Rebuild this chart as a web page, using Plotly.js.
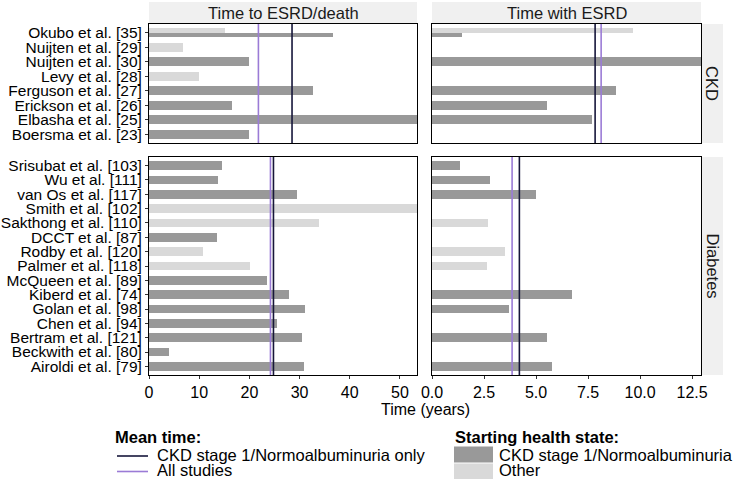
<!DOCTYPE html>
<html>
<head>
<meta charset="utf-8">
<script src="https://cdn.plot.ly/plotly-3.0.1.min.js"></script>
<style>html,body{margin:0;padding:0;background:#fff;}#chart{width:738px;height:480px;}</style>
</head>
<body>
<div id="chart"></div>
<script>
// ---------- data ----------
const ckdStudies = ["Okubo et al. [35]","Nuijten et al. [29]","Nuijten et al. [30]","Levy et al. [28]",
  "Ferguson et al. [27]","Erickson et al. [26]","Elbasha et al. [25]","Boersma et al. [23]"];
const ckdToEsrdDeathStage1 = [36.7, null, 20.0, null, 32.7, 16.6, 53.4, 20.0];
const ckdToEsrdDeathOther  = [15.1, 6.8, null, 9.9, null, null, null, null];
const ckdWithEsrdStage1    = [1.43, null, 12.93, null, 8.84, 5.52, 7.70, null];
const ckdWithEsrdOther     = [9.66, null, null, null, null, null, null, null];

const diabStudies = ["Srisubat et al. [103]","Wu et al. [111]","van Os et al. [117]","Smith et al. [102]",
  "Sakthong et al. [110]","DCCT et al. [87]","Rodby et al. [120]","Palmer et al. [118]","McQueen et al. [89]",
  "Kiberd et al. [74]","Golan et al. [98]","Chen et al. [94]","Bertram et al. [121]","Beckwith et al. [80]","Airoldi et al. [79]"];
const diabToEsrdDeathStage1 = [14.5, 13.7, 29.5, null, null, 13.6, null, null, 23.5, 27.9, 31.1, 25.6, 30.4, 4.0, 30.8];
const diabToEsrdDeathOther  = [null, null, null, 53.4, 33.9, null, 10.8, 20.1, null, null, null, null, null, null, null];
const diabWithEsrdStage1    = [1.35, 2.79, 5.02, null, null, null, null, null, null, 6.74, 3.71, null, 5.53, null, 5.77];
const diabWithEsrdOther     = [null, null, null, null, 2.71, null, 3.50, 2.63, null, null, null, null, null, null, null];

// panel order: CKD/to ESRD-death, CKD/with ESRD, Diabetes/to ESRD-death, Diabetes/with ESRD
const meanStage1Only = [28.5, 7.84, 24.8, 4.20];
const meanAllStudies = [21.8, 8.13, 24.2, 3.85];

const xTicksLeft = [0, 10, 20, 30, 40, 50];
const xTicksRight = [0, 2.5, 5, 7.5, 10, 12.5];
const outcomeLabels = ["Time to ESRD/death", "Time with ESRD"];
const groupLabels = ["CKD", "Diabetes"];

// ---------- style ----------
const DARK = "#999999", LIGHT = "#d9d9d9", NAVY = "#16163a", PURPLE = "#9b7bd6", STRIP = "#f0f0f0";
const FONT = "Liberation Sans, Arial, sans-serif";
const W = 738, H = 480;
const px = x => x / W, py = y => 1 - y / H;

// ---------- bars ----------
const traces = [];
function addBars(studies, stage1, other, xa, ya) {
  const n = studies.length;
  const s = {x: [], y: [], w: []}, o = {x: [], y: [], w: []};
  studies.forEach((st, i) => {
    const pos = n - i;
    const both = stage1[i] != null && other[i] != null;
    if (stage1[i] != null) { s.x.push(stage1[i]); s.y.push(both ? pos - 0.15 : pos); s.w.push(both ? 0.3 : 0.6); }
    if (other[i] != null) { o.x.push(other[i]); o.y.push(both ? pos + 0.15 : pos); o.w.push(both ? 0.3 : 0.6); }
  });
  traces.push({type: "bar", orientation: "h", x: s.x, y: s.y, width: s.w, marker: {color: DARK, line: {width: 0}},
    xaxis: xa, yaxis: ya, showlegend: false, hoverinfo: "x"});
  traces.push({type: "bar", orientation: "h", x: o.x, y: o.y, width: o.w, marker: {color: LIGHT, line: {width: 0}},
    xaxis: xa, yaxis: ya, showlegend: false, hoverinfo: "x"});
}
addBars(ckdStudies, ckdToEsrdDeathStage1, ckdToEsrdDeathOther, "x", "y");
addBars(ckdStudies, ckdWithEsrdStage1, ckdWithEsrdOther, "x2", "y2");
addBars(diabStudies, diabToEsrdDeathStage1, diabToEsrdDeathOther, "x3", "y3");
addBars(diabStudies, diabWithEsrdStage1, diabWithEsrdOther, "x4", "y4");

const maxLeft = Math.max(...[...ckdToEsrdDeathStage1, ...ckdToEsrdDeathOther, ...diabToEsrdDeathStage1, ...diabToEsrdDeathOther].filter(v => v != null));
const maxRight = Math.max(...[...ckdWithEsrdStage1, ...ckdWithEsrdOther, ...diabWithEsrdStage1, ...diabWithEsrdOther].filter(v => v != null));

// ---------- axes ----------
const L = [px(149), px(417)], R = [px(432), px(701)];
const TOP = [py(143), py(24)], BOT = [py(375), py(157)];
const baseX = (dom, range, ticks, showLabels, anchor, fmt) => ({
  domain: dom, range: range, anchor: anchor, tickvals: ticks, tickformat: fmt,
  showticklabels: showLabels, ticks: showLabels ? "outside" : "", ticklen: 3, tickcolor: "#333", tickwidth: 1,
  showgrid: false, zeroline: false, showline: true, mirror: true, linecolor: "#000", linewidth: 1,
  tickfont: {family: FONT, size: 16, color: "#000"}, fixedrange: true
});
const baseY = (dom, n, labels, anchor, showLabels) => ({
  domain: dom, range: [0.4, n + 0.6], anchor: anchor,
  tickvals: labels.map((_, i) => n - i), ticktext: labels,
  showticklabels: showLabels, ticks: showLabels ? "outside" : "", ticklen: 3, tickcolor: "#333", tickwidth: 1,
  showgrid: false, zeroline: false, showline: true, mirror: true, linecolor: "#000", linewidth: 1,
  tickfont: {family: FONT, size: 15.5, color: "#000"}, fixedrange: true
});

const layout = {
  width: W, height: H, margin: {l: 0, r: 0, t: 0, b: 0},
  paper_bgcolor: "#fff", plot_bgcolor: "#fff", showlegend: false, bargap: 0,
  font: {family: FONT, color: "#000"},
  xaxis:  baseX(L, [0, maxLeft], xTicksLeft, false, "y", ""),
  xaxis2: baseX(R, [0, maxRight], xTicksRight, false, "y2", ".1f"),
  xaxis3: baseX(L, [0, maxLeft], xTicksLeft, true, "y3", ""),
  xaxis4: baseX(R, [0, maxRight], xTicksRight, true, "y4", ".1f"),
  yaxis:  baseY(TOP, ckdStudies.length, ckdStudies, "x", true),
  yaxis2: baseY(TOP, ckdStudies.length, ckdStudies, "x2", false),
  yaxis3: baseY(BOT, diabStudies.length, diabStudies, "x3", true),
  yaxis4: baseY(BOT, diabStudies.length, diabStudies, "x4", false),
  shapes: [], annotations: []
};

// mean lines
const panels = [["x", "y"], ["x2", "y2"], ["x3", "y3"], ["x4", "y4"]];
panels.forEach((p, k) => {
  layout.shapes.push({type: "line", xref: p[0], yref: p[1] + " domain", x0: meanAllStudies[k], x1: meanAllStudies[k], y0: 0, y1: 1,
    line: {color: PURPLE, width: 1.6}});
  layout.shapes.push({type: "line", xref: p[0], yref: p[1] + " domain", x0: meanStage1Only[k], x1: meanStage1Only[k], y0: 0, y1: 1,
    line: {color: NAVY, width: 1.6}});
});

// strips
const strip = (x0, x1, y0, y1) => ({type: "rect", xref: "paper", yref: "paper", x0: px(x0), x1: px(x1), y0: py(y1), y1: py(y0),
  fillcolor: STRIP, line: {width: 0}, layer: "below"});
layout.shapes.push(strip(149, 417, 2, 23.5), strip(432, 701, 2, 23.5), strip(701.5, 723, 24, 143), strip(701.5, 723, 157, 375));
const ann = (text, x, y, opts) => Object.assign({text: text, x: px(x), y: py(y), xref: "paper", yref: "paper", showarrow: false,
  font: {family: FONT, size: 16.5, color: "#1a1a1a"}, xanchor: "center", yanchor: "middle"}, opts || {});
layout.annotations.push(ann(outcomeLabels[0], 283, 13));
layout.annotations.push(ann(outcomeLabels[1], 566.5, 13));
layout.annotations.push(ann(groupLabels[0], 712.5, 83.5, {textangle: 90}));
layout.annotations.push(ann(groupLabels[1], 712.5, 266, {textangle: 90}));
layout.annotations.push(ann("Time (years)", 425, 409, {font: {family: FONT, size: 16, color: "#000"}}));

// legends
const LF = {family: FONT, size: 16.5, color: "#000"};
layout.annotations.push(ann("<b>Mean time:</b>", 113, 437, {xanchor: "left", font: LF}));
layout.annotations.push(ann("CKD stage 1/Normoalbuminuria only", 155, 455, {xanchor: "left", font: LF}));
layout.annotations.push(ann("All studies", 155, 470, {xanchor: "left", font: LF}));
layout.shapes.push({type: "line", xref: "paper", yref: "paper", x0: px(117), x1: px(148), y0: py(456), y1: py(456), line: {color: NAVY, width: 1.6}});
layout.shapes.push({type: "line", xref: "paper", yref: "paper", x0: px(117), x1: px(148), y0: py(471.5), y1: py(471.5), line: {color: PURPLE, width: 1.6}});
layout.annotations.push(ann("<b>Starting health state:</b>", 453, 437, {xanchor: "left", font: LF}));
layout.annotations.push(ann("CKD stage 1/Normoalbuminuria", 497, 454.5, {xanchor: "left", font: LF}));
layout.annotations.push(ann("Other", 497, 470, {xanchor: "left", font: LF}));
layout.shapes.push({type: "rect", xref: "paper", yref: "paper", x0: px(454), x1: px(493), y0: py(462.5), y1: py(446.5), fillcolor: DARK, line: {width: 0}});
layout.shapes.push({type: "rect", xref: "paper", yref: "paper", x0: px(454), x1: px(493), y0: py(479), y1: py(463.5), fillcolor: LIGHT, line: {width: 0}});

Plotly.newPlot("chart", traces, layout, {staticPlot: true, displayModeBar: false});
</script>
</body>
</html>
